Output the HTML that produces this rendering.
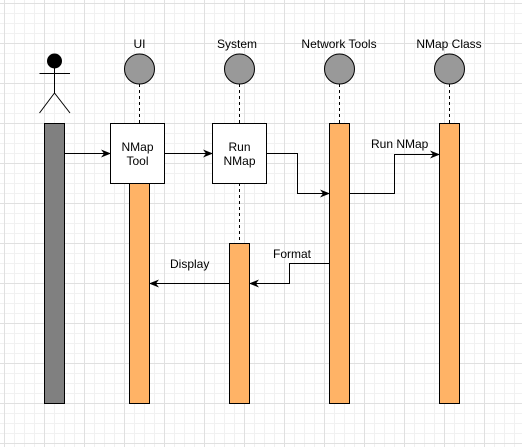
<!DOCTYPE html>
<html><head><style>
html,body{margin:0;padding:0;background:#fff;}
svg{display:block;}
text{font-family:"Liberation Sans",Arial,sans-serif;font-size:12px;fill:#000;}
</style></head><body>
<svg width="522" height="447" viewBox="0 0 522 447" xmlns="http://www.w3.org/2000/svg">
<defs>
<pattern id="minor" x="4" y="3" width="10" height="10" patternUnits="userSpaceOnUse">
<path d="M0 0.5H10M0.5 0V10" stroke="#f1f1f1" stroke-width="1" fill="none"/>
</pattern>
<pattern id="major" x="4" y="3" width="40" height="40" patternUnits="userSpaceOnUse">
<path d="M0 0.5H40M0.5 0V40" stroke="#e0e0e0" stroke-width="1" fill="none"/>
</pattern>
<marker id="a" markerWidth="10" markerHeight="8" refX="9" refY="4" orient="auto" markerUnits="userSpaceOnUse">
<path d="M0 0L10 4L0 8L3 4Z" fill="#000"/>
</marker>
</defs>
<rect width="522" height="447" fill="url(#minor)"/>
<rect width="522" height="447" fill="url(#major)"/>

<!-- actor -->
<circle cx="54.5" cy="61" r="7.5" fill="#000"/>
<g stroke="#000" stroke-width="1" fill="none">
<path d="M39.5 73.5H70M54.5 68V93M54.5 93L39.5 113M54.5 93L70 113"/>
</g>
<rect x="44.5" y="123.5" width="20" height="280" fill="#808080" stroke="#000"/>

<!-- heads -->
<g fill="#999" stroke="#000">
<circle cx="139.5" cy="69" r="15"/>
<circle cx="239.5" cy="69" r="15"/>
<circle cx="339.5" cy="69" r="15"/>
<circle cx="449.5" cy="69" r="15"/>
</g>
<text x="139.5" y="48" text-anchor="middle">UI</text>
<text x="237" y="48" text-anchor="middle">System</text>
<text x="339" y="48" text-anchor="middle">Network Tools</text>
<text x="449" y="48" text-anchor="middle">NMap Class</text>

<g stroke="#000" stroke-dasharray="3,3">
<path d="M139.5 84V123M239.5 84V123M339.5 84V123M449.5 84V123M239.5 183V243"/>
</g>

<!-- bars -->
<g fill="#ffb366" stroke="#000">
<rect x="129.5" y="183.5" width="20" height="220"/>
<rect x="229.5" y="243.5" width="20" height="160"/>
<rect x="329.5" y="123.5" width="20" height="280"/>
<rect x="439.5" y="123.5" width="20" height="280"/>
</g>
<g fill="#fff" stroke="#000">
<rect x="110.5" y="123.5" width="54" height="60"/>
<rect x="212.5" y="123.5" width="54" height="60"/>
</g>
<text x="137.5" y="151" text-anchor="middle">NMap</text>
<text x="137.5" y="165" text-anchor="middle">Tool</text>
<text x="239.5" y="151" text-anchor="middle">Run</text>
<text x="239.5" y="165" text-anchor="middle">NMap</text>

<!-- arrows -->
<g stroke="#000" fill="none" marker-end="url(#a)">
<path d="M65 153.5H110"/>
<path d="M165 153.5H212"/>
<path d="M267 153.5H297.5V193.5H329"/>
<path d="M350 193.5H394.5V154.5H439"/>
<path d="M329 263.5H289.5V283.5H250"/>
<path d="M229 283.5H150"/>
</g>
<text x="371" y="148">Run NMap</text>
<text x="273" y="258">Format</text>
<text x="170" y="268">Display</text>
</svg>
</body></html>
